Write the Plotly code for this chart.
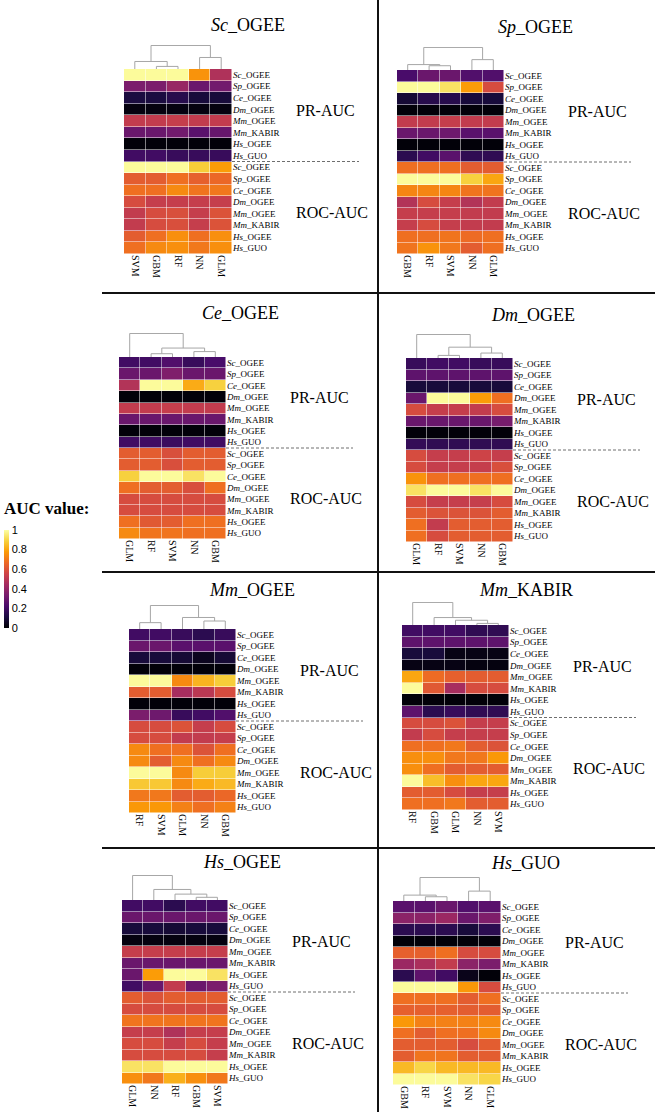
import plotly.graph_objects as go

W, H = 655, 1112

# ---------------- data ----------------
DATASETS = ["Sc_OGEE", "Sp_OGEE", "Ce_OGEE", "Dm_OGEE", "Mm_OGEE", "Mm_KABIR", "Hs_OGEE", "Hs_GUO"]
ROW_LABELS = DATASETS + DATASETS          # PR-AUC rows, then ROC-AUC rows
PANEL_TITLES = DATASETS

COLS_SC_OGEE = ["SVM", "GBM", "RF", "NN", "GLM"]
COLS_SP_OGEE = ["GBM", "RF", "SVM", "NN", "GLM"]
COLS_CE_OGEE = ["GLM", "RF", "SVM", "NN", "GBM"]
COLS_DM_OGEE = ["GLM", "RF", "SVM", "NN", "GBM"]
COLS_MM_OGEE = ["RF", "SVM", "GLM", "NN", "GBM"]
COLS_MM_KABIR = ["RF", "GBM", "GLM", "NN", "SVM"]
COLS_HS_OGEE = ["GLM", "NN", "RF", "GBM", "SVM"]
COLS_HS_GUO = ["GBM", "RF", "SVM", "NN", "GLM"]

PR_SC_OGEE = [[0.99, 0.99, 0.99, 0.76, 0.47], [0.34, 0.34, 0.41, 0.30, 0.32], [0.11, 0.11, 0.14, 0.10, 0.10],
              [0.02, 0.02, 0.02, 0.02, 0.02], [0.52, 0.52, 0.53, 0.52, 0.52], [0.30, 0.30, 0.32, 0.26, 0.29],
              [0.01, 0.01, 0.01, 0.01, 0.01], [0.20, 0.20, 0.18, 0.18, 0.18]]
ROC_SC_OGEE = [[0.99, 0.99, 0.99, 0.88, 0.78], [0.63, 0.63, 0.68, 0.64, 0.66], [0.68, 0.68, 0.74, 0.69, 0.70],
               [0.58, 0.53, 0.53, 0.53, 0.53], [0.52, 0.58, 0.59, 0.53, 0.60], [0.52, 0.58, 0.59, 0.53, 0.60],
               [0.63, 0.68, 0.75, 0.68, 0.75], [0.68, 0.74, 0.75, 0.70, 0.75]]

PR_SP_OGEE = [[0.22, 0.30, 0.30, 0.24, 0.24], [0.99, 0.99, 0.93, 0.78, 0.58], [0.09, 0.14, 0.14, 0.10, 0.10],
              [0.01, 0.01, 0.01, 0.01, 0.01], [0.52, 0.52, 0.53, 0.52, 0.52], [0.30, 0.30, 0.31, 0.26, 0.26],
              [0.01, 0.01, 0.01, 0.01, 0.01], [0.15, 0.20, 0.26, 0.16, 0.16]]
ROC_SP_OGEE = [[0.68, 0.68, 0.68, 0.63, 0.63], [0.99, 0.99, 0.99, 0.89, 0.80], [0.73, 0.73, 0.73, 0.69, 0.69],
               [0.48, 0.58, 0.53, 0.48, 0.52], [0.53, 0.53, 0.53, 0.52, 0.52], [0.53, 0.58, 0.53, 0.52, 0.52],
               [0.68, 0.68, 0.69, 0.67, 0.68], [0.69, 0.76, 0.70, 0.63, 0.68]]

PR_CE_OGEE = [[0.20, 0.20, 0.24, 0.18, 0.22], [0.30, 0.30, 0.35, 0.30, 0.30], [0.48, 0.99, 0.99, 0.81, 0.89],
              [0.01, 0.01, 0.01, 0.01, 0.01], [0.52, 0.52, 0.53, 0.52, 0.52], [0.30, 0.30, 0.30, 0.30, 0.30],
              [0.01, 0.01, 0.01, 0.01, 0.01], [0.20, 0.20, 0.19, 0.20, 0.20]]
ROC_CE_OGEE = [[0.63, 0.63, 0.59, 0.63, 0.63], [0.63, 0.63, 0.59, 0.63, 0.63], [0.89, 0.99, 0.99, 0.93, 0.99],
               [0.68, 0.63, 0.63, 0.59, 0.68], [0.58, 0.58, 0.58, 0.58, 0.58], [0.58, 0.58, 0.58, 0.58, 0.58],
               [0.68, 0.62, 0.63, 0.68, 0.68], [0.74, 0.69, 0.69, 0.68, 0.68]]

PR_DM_OGEE = [[0.18, 0.20, 0.20, 0.18, 0.18], [0.27, 0.27, 0.27, 0.27, 0.27], [0.10, 0.10, 0.10, 0.10, 0.10],
              [0.30, 0.99, 0.99, 0.78, 0.68], [0.58, 0.53, 0.53, 0.52, 0.58], [0.30, 0.30, 0.30, 0.30, 0.33],
              [0.01, 0.01, 0.01, 0.01, 0.01], [0.17, 0.16, 0.16, 0.16, 0.16]]
ROC_DM_OGEE = [[0.58, 0.53, 0.53, 0.55, 0.53], [0.58, 0.53, 0.53, 0.53, 0.59], [0.76, 0.68, 0.68, 0.68, 0.68],
               [0.93, 0.99, 0.99, 0.93, 0.99], [0.58, 0.53, 0.53, 0.53, 0.58], [0.63, 0.60, 0.60, 0.60, 0.63],
               [0.68, 0.52, 0.63, 0.63, 0.63], [0.68, 0.58, 0.63, 0.63, 0.63]]

PR_MM_OGEE = [[0.20, 0.20, 0.18, 0.15, 0.18], [0.30, 0.30, 0.26, 0.26, 0.26], [0.10, 0.10, 0.09, 0.05, 0.09],
              [0.01, 0.01, 0.01, 0.01, 0.01], [0.99, 0.99, 0.74, 0.83, 0.88], [0.63, 0.63, 0.45, 0.50, 0.58],
              [0.01, 0.01, 0.01, 0.01, 0.01], [0.34, 0.31, 0.18, 0.20, 0.24]]
ROC_MM_OGEE = [[0.58, 0.58, 0.60, 0.53, 0.58], [0.58, 0.58, 0.52, 0.52, 0.53], [0.74, 0.68, 0.68, 0.60, 0.68],
               [0.74, 0.63, 0.74, 0.68, 0.74], [0.99, 0.99, 0.74, 0.88, 0.88], [0.87, 0.87, 0.74, 0.81, 0.84],
               [0.70, 0.70, 0.63, 0.63, 0.66], [0.77, 0.77, 0.72, 0.68, 0.72]]

PR_MM_KABIR = [[0.20, 0.20, 0.20, 0.16, 0.16], [0.27, 0.27, 0.27, 0.27, 0.27], [0.10, 0.10, 0.03, 0.03, 0.03],
               [0.03, 0.03, 0.03, 0.02, 0.02], [0.80, 0.67, 0.64, 0.63, 0.63], [0.99, 0.62, 0.45, 0.58, 0.58],
               [0.01, 0.01, 0.01, 0.01, 0.01], [0.27, 0.15, 0.18, 0.16, 0.16]]
ROC_MM_KABIR = [[0.58, 0.58, 0.60, 0.53, 0.53], [0.52, 0.58, 0.53, 0.53, 0.53], [0.68, 0.68, 0.70, 0.63, 0.60],
                [0.75, 0.75, 0.70, 0.70, 0.77], [0.75, 0.68, 0.63, 0.63, 0.63], [0.99, 0.85, 0.75, 0.80, 0.80],
                [0.63, 0.63, 0.58, 0.53, 0.53], [0.68, 0.68, 0.70, 0.63, 0.63]]

PR_HS_OGEE = [[0.20, 0.20, 0.15, 0.20, 0.20], [0.30, 0.30, 0.30, 0.30, 0.30], [0.10, 0.10, 0.09, 0.10, 0.10],
              [0.02, 0.02, 0.02, 0.02, 0.02], [0.53, 0.53, 0.53, 0.53, 0.53], [0.30, 0.30, 0.30, 0.30, 0.30],
              [0.30, 0.78, 0.99, 0.99, 0.93], [0.20, 0.30, 0.52, 0.30, 0.34]]
ROC_HS_OGEE = [[0.63, 0.60, 0.63, 0.63, 0.63], [0.58, 0.58, 0.58, 0.58, 0.58], [0.69, 0.69, 0.69, 0.69, 0.69],
               [0.53, 0.53, 0.47, 0.53, 0.53], [0.58, 0.58, 0.53, 0.58, 0.53], [0.58, 0.58, 0.58, 0.58, 0.53],
               [0.93, 0.93, 0.99, 0.99, 0.99], [0.75, 0.70, 0.82, 0.75, 0.70]]

PR_HS_GUO = [[0.26, 0.26, 0.30, 0.24, 0.26], [0.38, 0.38, 0.42, 0.30, 0.35], [0.15, 0.15, 0.15, 0.10, 0.15],
             [0.01, 0.01, 0.01, 0.01, 0.01], [0.64, 0.64, 0.68, 0.58, 0.58], [0.42, 0.46, 0.52, 0.38, 0.34],
             [0.15, 0.27, 0.20, 0.04, 0.01], [0.99, 0.99, 0.99, 0.77, 0.58]]
ROC_HS_GUO = [[0.68, 0.68, 0.68, 0.63, 0.68], [0.64, 0.64, 0.64, 0.63, 0.63], [0.77, 0.72, 0.72, 0.72, 0.74],
              [0.68, 0.63, 0.68, 0.68, 0.74], [0.63, 0.63, 0.63, 0.58, 0.63], [0.63, 0.69, 0.69, 0.63, 0.63],
              [0.84, 0.90, 0.84, 0.84, 0.84], [0.99, 0.99, 0.99, 0.93, 0.90]]

# dendrogram merges (leaf indices 0-4 follow column order; merge k creates node 5+k), relative heights
TREE_SC_OGEE = [(1, 2, 0.11), (0, 5, 0.32), (3, 4, 0.49), (6, 7, 1.0)]
TREE_SP_OGEE = [(1, 2, 0.19), (0, 5, 0.24), (3, 4, 0.46), (6, 7, 1.0)]
TREE_CE_OGEE = [(1, 2, 0.14), (3, 4, 0.23), (5, 6, 0.38), (0, 7, 1.0)]
TREE_DM_OGEE = [(1, 2, 0.11), (3, 4, 0.21), (5, 6, 0.46), (0, 7, 1.0)]
TREE_MM_OGEE = [(3, 4, 0.34), (0, 1, 0.27), (2, 5, 0.49), (6, 7, 1.0)]
TREE_MM_KABIR = [(3, 4, 0.07), (2, 5, 0.21), (1, 6, 0.33), (0, 7, 1.0)]
TREE_HS_OGEE = [(3, 4, 0.11), (2, 5, 0.24), (1, 6, 0.43), (0, 7, 1.0)]
TREE_HS_GUO = [(1, 2, 0.18), (0, 5, 0.25), (3, 4, 0.42), (6, 7, 1.0)]

PANELS = [
    (COLS_SC_OGEE, PR_SC_OGEE, ROC_SC_OGEE, TREE_SC_OGEE),
    (COLS_SP_OGEE, PR_SP_OGEE, ROC_SP_OGEE, TREE_SP_OGEE),
    (COLS_CE_OGEE, PR_CE_OGEE, ROC_CE_OGEE, TREE_CE_OGEE),
    (COLS_DM_OGEE, PR_DM_OGEE, ROC_DM_OGEE, TREE_DM_OGEE),
    (COLS_MM_OGEE, PR_MM_OGEE, ROC_MM_OGEE, TREE_MM_OGEE),
    (COLS_MM_KABIR, PR_MM_KABIR, ROC_MM_KABIR, TREE_MM_KABIR),
    (COLS_HS_OGEE, PR_HS_OGEE, ROC_HS_OGEE, TREE_HS_OGEE),
    (COLS_HS_GUO, PR_HS_GUO, ROC_HS_GUO, TREE_HS_GUO),
]

# ---------------- layout geometry (pixels) ----------------
# heatmap left, right, top, bottom, dendrogram top, title x, title y
RECTS = [
    (124, 232, 69, 254, 45, 248, 25),
    (397, 504, 70, 254, 47, 535, 27),
    (119, 226, 357, 539, 333, 240, 313),
    (406, 513, 358, 542, 334, 533, 315),
    (129, 236, 629, 813, 605, 252, 590),
    (402, 509, 625, 810, 602, 526, 590),
    (122, 228, 900, 1084, 875, 242, 862),
    (393, 501, 901, 1085, 877, 525, 863),
]

SERIF = "Liberation Serif, Times New Roman, serif"
SANS = "Liberation Sans, Arial, sans-serif"


def px(x):
    return x / W


def py(y):
    return 1 - y / H


def fmt(name):
    sp, rest = name.split("_", 1)
    return f"<i>{sp}</i>_{rest}"


fig = go.Figure()
layout = {}
shapes = []
annotations = []

for i, ((cols, pr, roc, tree), rect) in enumerate(zip(PANELS, RECTS)):
    L, R, T, B, DT, TX, TY = rect
    hk, dk = 2 * i + 1, 2 * i + 2
    hx = "x" if hk == 1 else f"x{hk}"
    hy = "y" if hk == 1 else f"y{hk}"
    dx, dy = f"x{dk}", f"y{dk}"
    hxa = "xaxis" if hk == 1 else f"xaxis{hk}"
    hya = "yaxis" if hk == 1 else f"yaxis{hk}"

    z = pr + roc
    fig.add_trace(go.Heatmap(
        z=z, x=list(range(len(cols))), y=list(range(len(ROW_LABELS))),
        colorscale="Inferno", zmin=0, zmax=1, xgap=0.5, ygap=0.5,
        showscale=(i == 0), xaxis=hx, yaxis=hy, hoverinfo="z",
        colorbar=dict(x=px(4), xanchor="left", xref="paper", y=py(579), yanchor="middle",
                      len=98, lenmode="pixels", thickness=5, thicknessmode="pixels",
                      outlinewidth=0, xpad=0, ypad=0, ticks="",
                      tickvals=[0, 0.2, 0.4, 0.6, 0.8, 1],
                      tickfont=dict(family=SANS, size=11, color="#000")),
    ))
    layout[hxa] = dict(domain=[px(L), px(R)], range=[-0.5, len(cols) - 0.5], anchor=hy,
                       tickvals=list(range(len(cols))), ticktext=cols, tickangle=90,
                       ticks="", showgrid=False, zeroline=False, showline=False,
                       tickfont=dict(family=SERIF, size=10, color="#000"))
    layout[hya] = dict(domain=[py(B), py(T)], range=[len(ROW_LABELS) - 0.5, -0.5], anchor=hx,
                       side="right", tickvals=list(range(len(ROW_LABELS))),
                       ticktext=[fmt(r) for r in ROW_LABELS], ticks="",
                       showgrid=False, zeroline=False, showline=False,
                       tickfont=dict(family=SERIF, size=9, color="#000"))

    # dendrogram
    pos = {k: float(k) for k in range(len(cols))}
    hgt = {k: 0.0 for k in range(len(cols))}
    xs, ys = [], []
    for m, (a, b, h) in enumerate(tree):
        node = len(cols) + m
        xs += [pos[a], pos[a], pos[b], pos[b], None]
        ys += [hgt[a], h, h, hgt[b], None]
        pos[node] = (pos[a] + pos[b]) / 2
        hgt[node] = h
    fig.add_trace(go.Scatter(x=xs, y=ys, mode="lines", xaxis=dx, yaxis=dy,
                             line=dict(color="#a6a6a6", width=1), hoverinfo="skip",
                             showlegend=False))
    layout[f"xaxis{dk}"] = dict(domain=[px(L), px(R)], range=[-0.5, len(cols) - 0.5], anchor=dy,
                                visible=False)
    layout[f"yaxis{dk}"] = dict(domain=[py(T), py(DT)], range=[0, 1.02], anchor=dx, visible=False)

    rowh = (B - T) / len(ROW_LABELS)
    annotations.append(dict(text=fmt(PANEL_TITLES[i]), x=px(TX), y=py(TY), xref="paper", yref="paper",
                            showarrow=False, xanchor="center", yanchor="middle",
                            font=dict(family=SERIF, size=18, color="#000")))
    annotations.append(dict(text="PR-AUC", x=px(R + 62), y=py(T + 4 * rowh - 5), xref="paper", yref="paper",
                            showarrow=False, xanchor="left", yanchor="middle",
                            font=dict(family=SERIF, size=16, color="#000")))
    annotations.append(dict(text="ROC-AUC", x=px(R + 62), y=py(T + 12 * rowh + 5), xref="paper",
                            yref="paper", showarrow=False, xanchor="left", yanchor="middle",
                            font=dict(family=SERIF, size=16, color="#000")))
    shapes.append(dict(type="line", xref="paper", yref="paper", x0=px(R), x1=px(R + 127),
                       y0=py(T + 8 * rowh), y1=py(T + 8 * rowh),
                       line=dict(color="#6e6e6e", width=1, dash="3px,2px")))

# panel separators
shapes.append(dict(type="line", xref="paper", yref="paper", x0=px(378), x1=px(378), y0=0, y1=1,
                   line=dict(color="#111", width=2)))
for yy in (293, 572, 848):
    shapes.append(dict(type="line", xref="paper", yref="paper", x0=px(102), x1=1, y0=py(yy), y1=py(yy),
                       line=dict(color="#111", width=2)))

annotations.append(dict(text="<b>AUC value:</b>", x=px(2), y=py(509), xref="paper", yref="paper",
                        showarrow=False, xanchor="left", yanchor="middle",
                        font=dict(family=SERIF, size=17, color="#000")))

fig.update_layout(width=W, height=H, margin=dict(l=0, r=0, t=0, b=0), autosize=False,
                  paper_bgcolor="white", plot_bgcolor="white", showlegend=False,
                  shapes=shapes, annotations=annotations, **layout)

fig.write_html("out.html", config={"displayModeBar": False},
               post_script="document.body.style.margin='0';document.body.style.padding='0';")
